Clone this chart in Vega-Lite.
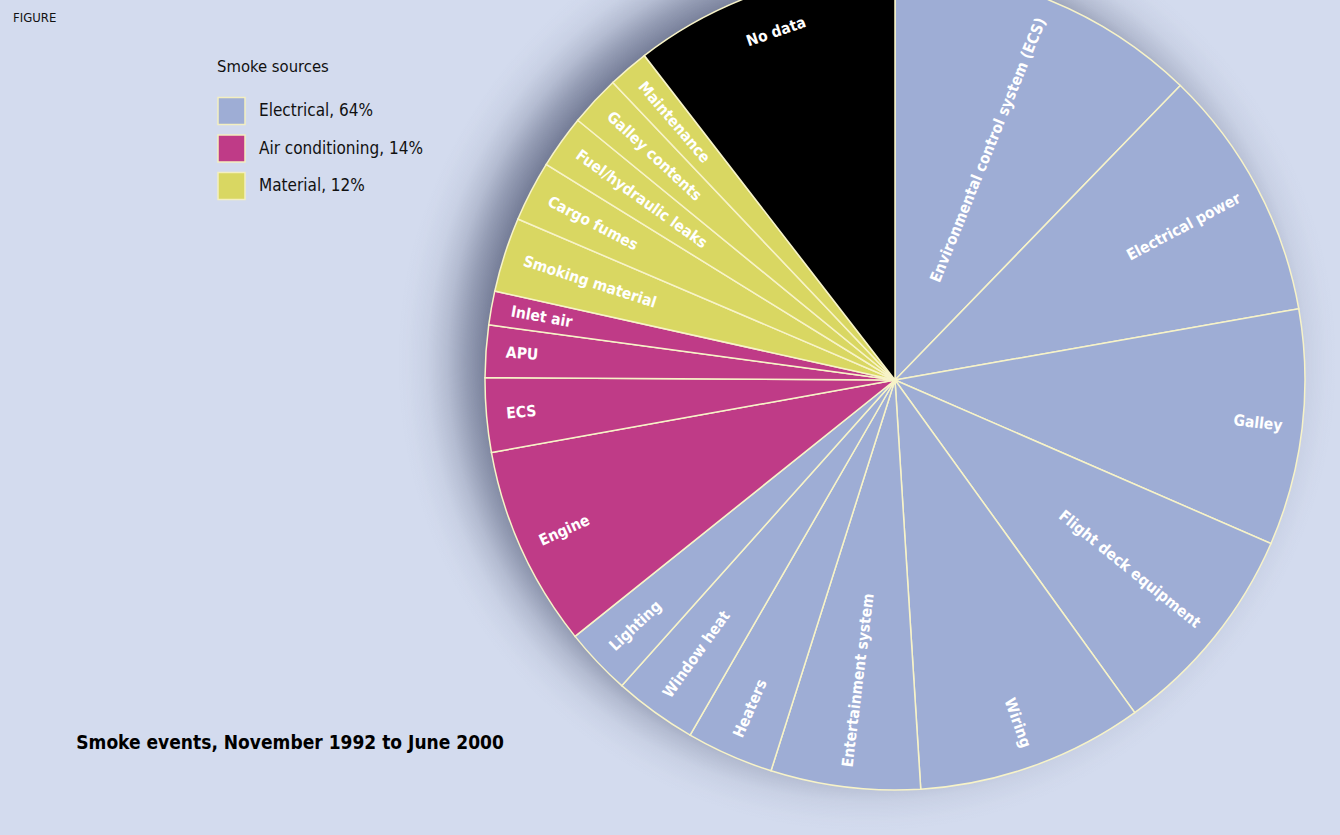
{
  "$schema": "https://vega.github.io/schema/vega-lite/v6.json",
  "width": 820,
  "height": 820,
  "autosize": {"type": "none"},
  "padding": {"left": 485, "top": -30, "right": 35, "bottom": 45},
  "background": "#d3dbee",
  "config": {
    "view": {"stroke": null},
    "font": "DejaVu Sans Condensed, Liberation Sans Narrow, sans-serif"
  },
  "title": {
    "text": "FIGURE",
    "subtitle": "\u200B\u2003\u2003\u2003\u2002\u2009Smoke events, November 1992 to June 2000",
    "orient": "top",
    "anchor": "start",
    "frame": "group",
    "offset": 0,
    "fontSize": 13,
    "fontWeight": "normal",
    "color": "#111111",
    "subtitleFontSize": 19,
    "subtitleFontWeight": "bold",
    "subtitleColor": "#000000",
    "subtitlePadding": 709,
    "limit": 0,
    "dx": -472,
    "dy": 873
  },
  "data": {
    "values": [
      {"order": 1, "label": "Environmental control system (ECS)", "group": "Electrical, 64%", "share": 12.25},
      {"order": 2, "label": "Electrical power", "group": "Electrical, 64%", "share": 9.97},
      {"order": 3, "label": "Galley", "group": "Electrical, 64%", "share": 9.31},
      {"order": 4, "label": "Flight deck equipment", "group": "Electrical, 64%", "share": 8.53},
      {"order": 5, "label": "Wiring", "group": "Electrical, 64%", "share": 8.94},
      {"order": 6, "label": "Entertainment system", "group": "Electrical, 64%", "share": 5.89},
      {"order": 7, "label": "Heaters", "group": "Electrical, 64%", "share": 3.44},
      {"order": 8, "label": "Window heat", "group": "Electrical, 64%", "share": 3.28},
      {"order": 9, "label": "Lighting", "group": "Electrical, 64%", "share": 2.64},
      {"order": 10, "label": "Engine", "group": "Air conditioning, 14%", "share": 7.92},
      {"order": 11, "label": "ECS", "group": "Air conditioning, 14%", "share": 2.92},
      {"order": 12, "label": "APU", "group": "Air conditioning, 14%", "share": 2.06},
      {"order": 13, "label": "Inlet air", "group": "Air conditioning, 14%", "share": 1.33},
      {"order": 14, "label": "Smoking material", "group": "Material, 12%", "share": 2.94},
      {"order": 15, "label": "Cargo fumes", "group": "Material, 12%", "share": 2.39},
      {"order": 16, "label": "Fuel/hydraulic leaks", "group": "Material, 12%", "share": 2.11},
      {"order": 17, "label": "Galley contents", "group": "Material, 12%", "share": 2.0},
      {"order": 18, "label": "Maintenance", "group": "Material, 12%", "share": 1.61},
      {"order": 19, "label": "No data", "group": "No data", "share": 10.47}
    ]
  },
  "layer": [
    {
      "data": {"values": [{"part": "shadow"}]},
      "mark": {
        "type": "arc",
        "theta": 0,
        "theta2": 6.2832,
        "outerRadius": 500,
        "fill": {
          "gradient": "radial",
          "x1": 0.472, "y1": 0.482, "r1": 0.37,
          "x2": 0.472, "y2": 0.482, "r2": 0.47,
          "stops": [
            {"offset": 0, "color": "rgba(70,78,108,0.7)"},
            {"offset": 0.1, "color": "rgba(70,78,108,0.65)"},
            {"offset": 0.3, "color": "rgba(70,78,108,0.45)"},
            {"offset": 0.5, "color": "rgba(70,78,108,0.22)"},
            {"offset": 0.7, "color": "rgba(70,78,108,0.07)"},
            {"offset": 0.9, "color": "rgba(70,78,108,0.01)"},
            {"offset": 1, "color": "rgba(70,78,108,0)"}
          ]
        }
      },
      "encoding": {}
    },
    {
      "mark": {"type": "arc", "outerRadius": 410, "stroke": "#f7f3c8", "strokeWidth": 1.5},
      "encoding": {
        "theta": {"field": "share", "type": "quantitative", "stack": true},
        "order": {"field": "order", "type": "quantitative"},
        "color": {
          "field": "group",
          "type": "nominal",
          "scale": {
            "domain": ["Electrical, 64%", "Air conditioning, 14%", "Material, 12%", "No data"],
            "range": ["#9eadd5", "#bf3b87", "#d9d762", "#000000"]
          },
          "legend": {
            "title": "Smoke sources",
            "orient": "none",
            "legendX": -268,
            "legendY": 89,
            "padding": 0,
            "values": ["Electrical, 64%", "Air conditioning, 14%", "Material, 12%"],
            "symbolType": "square",
            "symbolSize": 729,
            "symbolStrokeColor": "#f4efc0",
            "symbolStrokeWidth": 1.5,
            "symbolOpacity": 1,
            "labelFontSize": 17,
            "labelLimit": 400,
            "labelColor": "#111111",
            "labelOffset": 13,
            "titleFontSize": 16.5,
            "titleFontWeight": "normal",
            "titleColor": "#111111",
            "titlePadding": 21,
            "rowPadding": 4.5
          }
        }
      }
    },
    {
      "mark": {
        "type": "text",
        "color": "#ffffff",
        "fontSize": 15.5,
        "fontWeight": "bold",
        "baseline": "middle",
        "radius": {"expr": "datum.group == 'No data' ? 368 : 390"},
        "angle": {"expr": "datum.group == 'No data' ? scale('theta', (datum.share_start + datum.share_end) / 2) * 180 / PI - 360 : (scale('theta', (datum.share_start + datum.share_end) / 2) * 180 / PI < 180 ? scale('theta', (datum.share_start + datum.share_end) / 2) * 180 / PI - 90 : scale('theta', (datum.share_start + datum.share_end) / 2) * 180 / PI + 90)"},
        "align": {"expr": "datum.group == 'No data' ? 'center' : (scale('theta', (datum.share_start + datum.share_end) / 2) * 180 / PI < 180 ? 'right' : 'left')"}
      },
      "encoding": {
        "theta": {"field": "share", "type": "quantitative", "stack": true},
        "order": {"field": "order", "type": "quantitative"},
        "text": {"field": "label", "type": "nominal"}
      }
    }
  ]
}
